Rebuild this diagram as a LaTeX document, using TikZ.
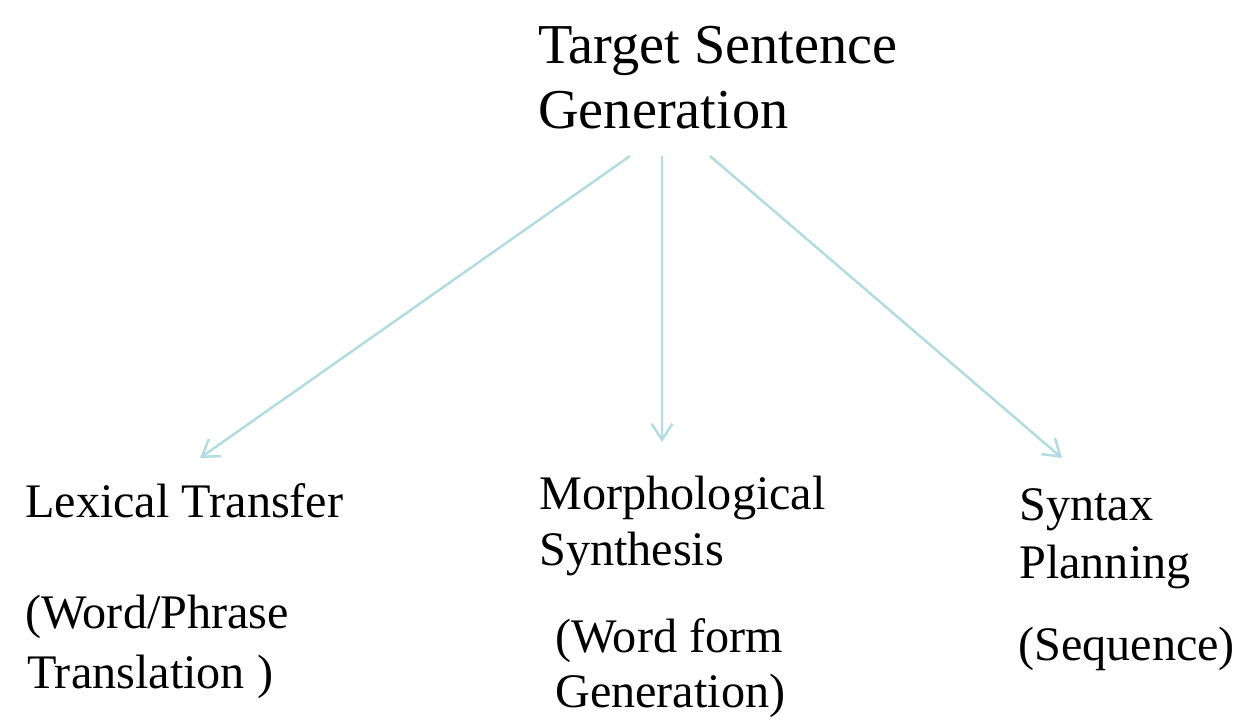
\documentclass[tikz,border=0pt]{standalone}
\usepackage{fontspec}
\setmainfont{Liberation Serif}
\usetikzlibrary{arrows.meta}
\definecolor{linkteal}{HTML}{B2DCE0}
\begin{document}
\begin{tikzpicture}[x=1pt,y=-1pt,
  title/.style={anchor=base west,inner sep=0pt,font=\fontsize{56.3}{65}\selectfont},
  label/.style={anchor=base west,inner sep=0pt,font=\fontsize{48.2}{57}\selectfont},
  link/.style={draw=linkteal,line width=2.5pt,
    -{Straight Barb[length=16pt,width=21pt,line width=2.5pt]}}]
\useasboundingbox (0,0) rectangle (1249,721);

% heading
\node[title] (t1) at (538,63) {Target Sentence};
\node[title] (t2) at (538,128) {Generation};

% left branch
\node[label] (lex1) at (25,517) {Lexical Transfer};
\node[label] (lex2) at (25,628) {(Word/Phrase};
\node[label] (lex3) at (27,688) {Translation )};

% middle branch
\node[label] (mor1) at (539,509) {Morphological};
\node[label] (mor2) at (539,565) {Synthesis};
\node[label] (mor3) at (555,652) {(Word form};
\node[label] (mor4) at (555,707) {Generation)};

% right branch
\node[label] (syn1) at (1019,520) {Syntax};
\node[label] (syn2) at (1019,578) {Planning};
\node[label] (syn3) at (1018,660) {(Sequence)};

% arrow start and end points
\coordinate (sL) at (630,156);
\coordinate (sM) at (662,156);
\coordinate (sR) at (710,156);
\coordinate (eL) at (200,458);
\coordinate (eM) at (662,442);
\coordinate (eR) at (1062,458);

\draw[link] (sL) -- (eL);
\draw[link] (sM) -- (eM);
\draw[link] (sR) -- (eR);
\end{tikzpicture}
\end{document}
